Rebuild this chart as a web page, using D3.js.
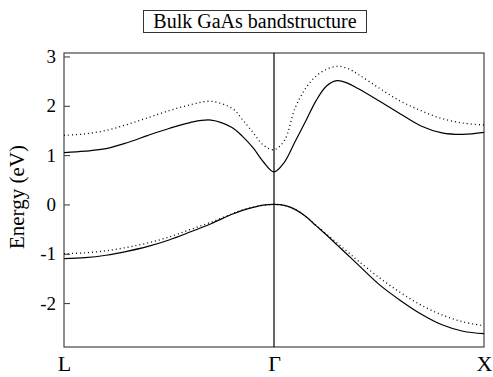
<!DOCTYPE html>
<html>
<head>
<meta charset="utf-8">
<script src="https://cdn.jsdelivr.net/npm/d3@7"></script>
<style>
  body { margin: 0; background: #fff; }
  svg text { font-family: "Liberation Serif", "Times New Roman", serif !important; fill: #000; }
</style>
</head>
<body>
<div id="chart"></div>
<script>
// k path position: 0 = L, 1 = Gamma, 2 = X
var kPts = [0, 0.1, 0.2, 0.3, 0.4, 0.5, 0.6, 0.7, 0.8, 0.85, 0.9, 0.95, 1.0,
            1.05, 1.1, 1.15, 1.2, 1.25, 1.3, 1.35, 1.4, 1.5, 1.6, 1.7, 1.8, 1.9, 2.0];

// conduction band, solid and dotted
var cbSolid  = [1.05, 1.08, 1.13, 1.25, 1.40, 1.54, 1.66, 1.71, 1.56, 1.38, 1.15, 0.86, 0.66,
                0.86, 1.27, 1.68, 2.10, 2.40, 2.51, 2.46, 2.35, 2.10, 1.84, 1.59, 1.45, 1.42, 1.46];
var cbDotted = [1.40, 1.43, 1.50, 1.62, 1.76, 1.90, 2.02, 2.09, 1.95, 1.72, 1.46, 1.20, 1.11,
                1.30, 1.95, 2.35, 2.60, 2.74, 2.80, 2.76, 2.64, 2.36, 2.10, 1.90, 1.74, 1.65, 1.61];

// valence band, solid and dotted
var vbSolid  = [-1.10, -1.08, -1.03, -0.95, -0.85, -0.72, -0.56, -0.39, -0.20, -0.12, -0.06, -0.015, 0,
                -0.02, -0.10, -0.24, -0.43, -0.62, -0.82, -1.02, -1.22, -1.62, -1.94, -2.22, -2.44, -2.57, -2.62];
var vbDotted = [-1.00, -0.98, -0.94, -0.87, -0.78, -0.66, -0.51, -0.36, -0.19, -0.11, -0.06, -0.015, 0,
                -0.02, -0.10, -0.24, -0.42, -0.60, -0.78, -0.96, -1.14, -1.48, -1.78, -2.04, -2.24, -2.38, -2.46];

var kLabels = ["L", "\u0393", "X"];
var yTicks = [-2, -1, 0, 1, 2, 3];

var margin = {top: 53, right: 9, bottom: 30, left: 64},
    width = 493 - margin.left - margin.right,
    height = 377 - margin.top - margin.bottom;

var svg = d3.select("#chart").append("svg")
    .attr("width", 493)
    .attr("height", 377);

var g = svg.append("g")
    .attr("transform", "translate(" + margin.left + "," + margin.top + ")");

var x = d3.scaleLinear().domain([0, 2]).range([0, width]);
var y = d3.scaleLinear().domain([-2.89, 3.07]).range([height, 0]);

// title box
svg.append("rect")
    .attr("x", 143.5)
    .attr("y", 10.5)
    .attr("width", 223)
    .attr("height", 22)
    .attr("fill", "none")
    .attr("stroke", "#333")
    .attr("stroke-width", 1);

svg.append("text")
    .attr("x", 255)
    .attr("y", 28)
    .attr("text-anchor", "middle")
    .style("font-size", "20px")
    .text("Bulk GaAs bandstructure");

// y axis, ticks inside
var yAxis = d3.axisLeft(y)
    .tickValues(yTicks)
    .tickSizeInner(-6)
    .tickSizeOuter(0)
    .tickPadding(8)
    .tickFormat(function(d) { return d < 0 ? "-" + Math.abs(d) : d; });

var ya = g.append("g").call(yAxis)
    .attr("font-family", "Liberation Serif");
ya.select(".domain").remove();
ya.selectAll("line").attr("stroke", "#333");
ya.selectAll("text")
    .style("font-size", "19px");

// x axis labels
var xAxis = d3.axisBottom(x)
    .tickValues([0, 1, 2])
    .tickSize(0)
    .tickPadding(8)
    .tickFormat(function(d) { return kLabels[d]; });

var xa = g.append("g")
    .attr("transform", "translate(0," + height + ")")
    .call(xAxis)
    .attr("font-family", "Liberation Serif");
xa.select(".domain").remove();
xa.selectAll("text")
    .style("font-size", "22px");

// y label
svg.append("text")
    .attr("transform", "translate(24," + (margin.top + y(0.15)) + ") rotate(-90)")
    .attr("text-anchor", "middle")
    .style("font-size", "21px")
    .text("Energy (eV)");

// frame
g.append("rect")
    .attr("x", 0)
    .attr("y", 0)
    .attr("width", width)
    .attr("height", height)
    .attr("fill", "none")
    .attr("stroke", "#444")
    .attr("stroke-width", 1.2);

// Gamma line
g.append("line")
    .attr("x1", x(1))
    .attr("x2", x(1))
    .attr("y1", 0)
    .attr("y2", height)
    .attr("stroke", "#000")
    .attr("stroke-width", 1.2);

var line = d3.line()
    .x(function(d) { return x(d[0]); })
    .y(function(d) { return y(d[1]); })
    .curve(d3.curveCatmullRom.alpha(0.5));

function draw(vals, dotted) {
  var pts = kPts.map(function(k, i) { return [k, vals[i]]; });
  g.append("path")
    .datum(pts)
    .attr("d", line)
    .attr("fill", "none")
    .attr("stroke", "#000")
    .attr("stroke-width", dotted ? 1.3 : 1.2)
    .attr("stroke-dasharray", dotted ? "1,3" : null);
}

draw(cbDotted, true);
draw(vbDotted, true);
draw(cbSolid, false);
draw(vbSolid, false);
</script>
</body>
</html>
